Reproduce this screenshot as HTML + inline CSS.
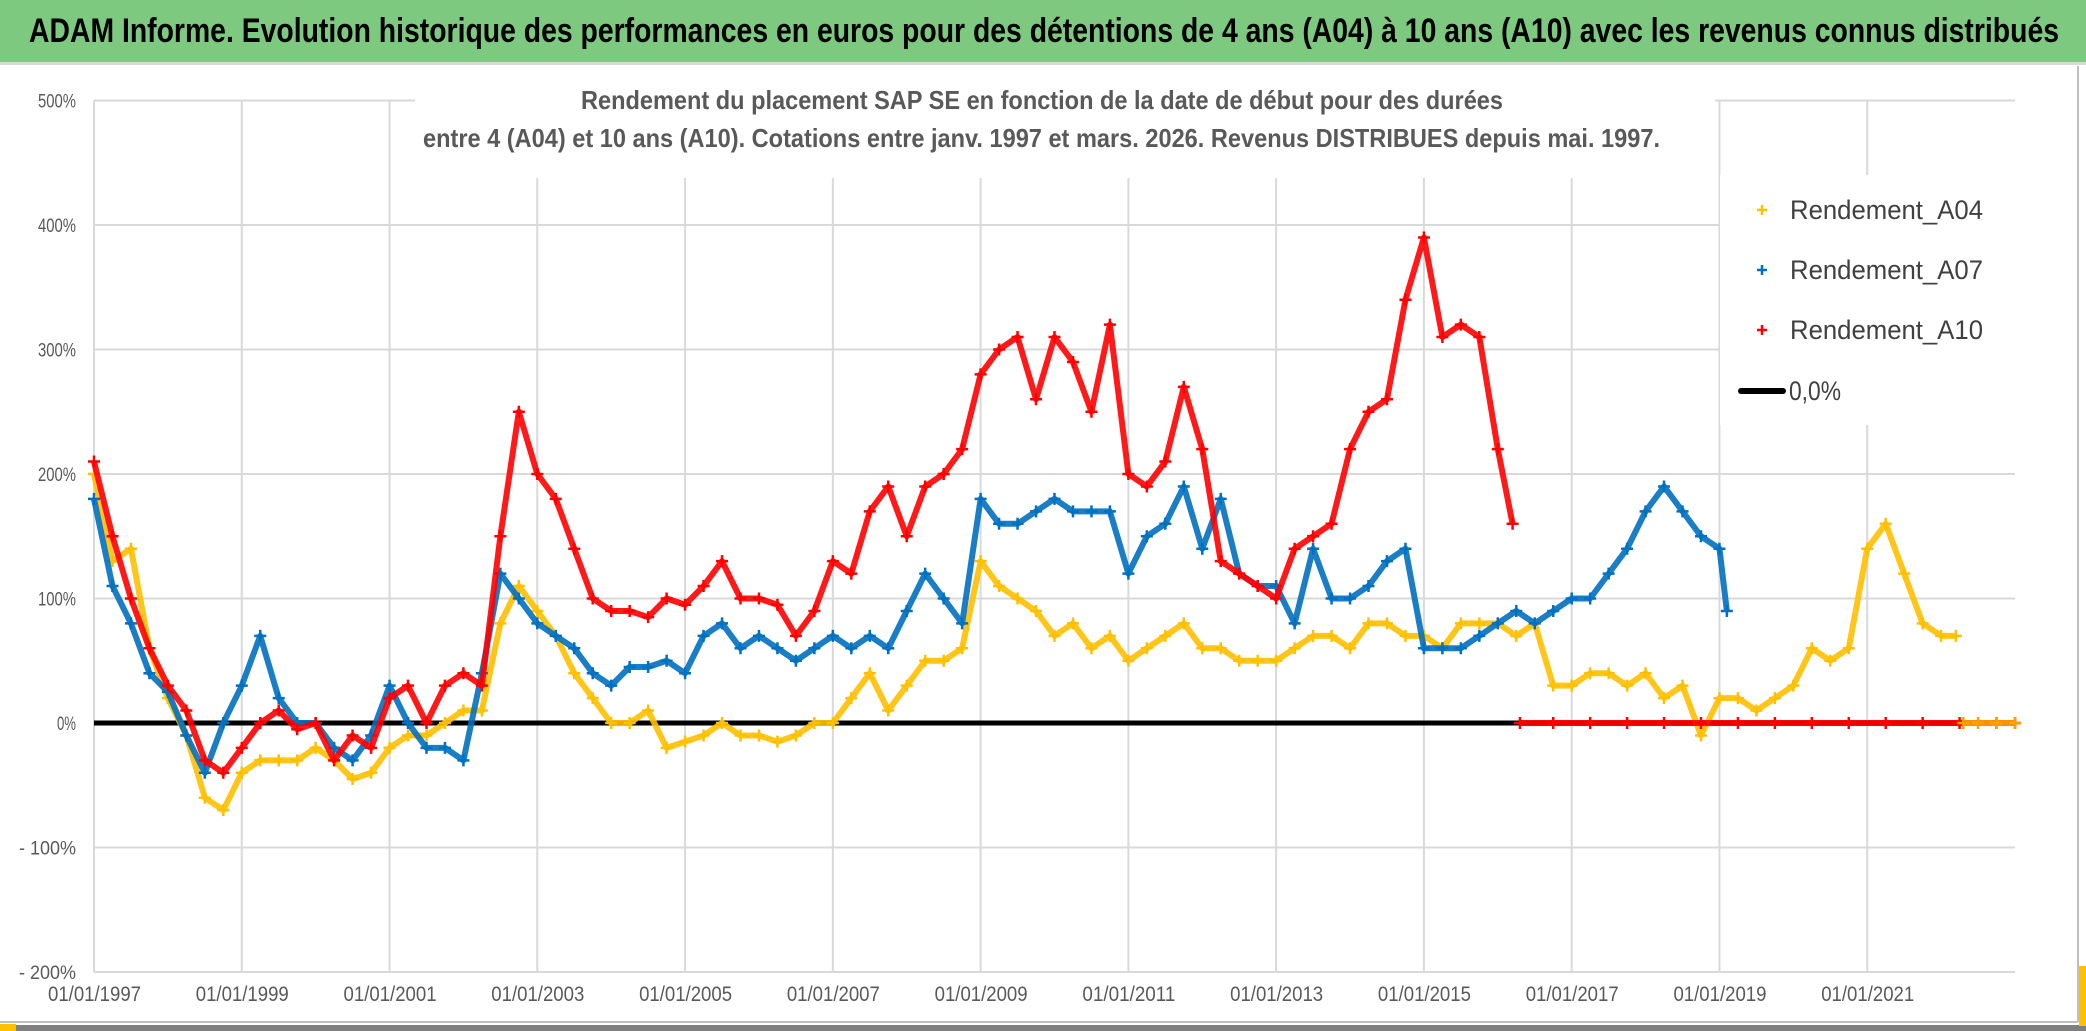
<!DOCTYPE html>
<html><head><meta charset="utf-8">
<style>
html,body{margin:0;padding:0;background:#fff;}
body{width:2086px;height:1031px;overflow:hidden;position:relative;font-family:"Liberation Sans",sans-serif;}
#title{position:absolute;left:0;top:0;width:2086px;height:62px;background:#7dc97f;border-bottom:3px solid #d9d9d9;}
svg{position:absolute;left:0;top:0;}
</style></head><body>
<div id="title"></div>
<svg id="chart" width="2086" height="1031">
<text x="29" y="42" font-size="34" font-weight="bold" fill="#000" textLength="2030" lengthAdjust="spacingAndGlyphs" font-family="Liberation Sans, sans-serif">ADAM Informe. Evolution historique des performances en euros pour des détentions de 4 ans (A04) à 10 ans (A10) avec les revenus connus distribués</text>
</svg>
<script>
const yearsA10=[1997,1997.25,1997.5,1997.75,1998,1998.25,1998.5,1998.75,1999,1999.25,1999.5,1999.75,2000,2000.25,2000.5,2000.75,2001,2001.25,2001.5,2001.75,2002,2002.25,2002.5,2002.75,2003,2003.25,2003.5,2003.75,2004,2004.25,2004.5,2004.75,2005,2005.25,2005.5,2005.75,2006,2006.25,2006.5,2006.75,2007,2007.25,2007.5,2007.75,2008,2008.25,2008.5,2008.75,2009,2009.25,2009.5,2009.75,2010,2010.25,2010.5,2010.75,2011,2011.25,2011.5,2011.75,2012,2012.25,2012.5,2012.75,2013,2013.25,2013.5,2013.75,2014,2014.25,2014.5,2014.75,2015,2015.25,2015.5,2015.75,2016,2016.2];
const valsA10=[210,150,100,60,30,10,-30,-40,-20,0,10,-5,0,-30,-10,-20,20,30,0,30,40,30,150,250,200,180,140,100,90,90,85,100,95,110,130,100,100,95,70,90,130,120,170,190,150,190,200,220,280,300,310,260,310,290,250,320,200,190,210,270,220,130,120,110,100,140,150,160,220,250,260,340,390,310,320,310,220,160];
const yearsA10zero=[2016.3,2016.75,2017.25,2017.75,2018.25,2018.75,2019.25,2019.75,2020.25,2020.75,2021.25,2021.75,2022.25,2022.75,2023];
const valsA10zero=[0,0,0,0,0,0,0,0,0,0,0,0,0,0,0];
const yearsA07=[1997,1997.25,1997.5,1997.75,1998,1998.25,1998.5,1998.75,1999,1999.25,1999.5,1999.75,2000,2000.25,2000.5,2000.75,2001,2001.25,2001.5,2001.75,2002,2002.25,2002.5,2002.75,2003,2003.25,2003.5,2003.75,2004,2004.25,2004.5,2004.75,2005,2005.25,2005.5,2005.75,2006,2006.25,2006.5,2006.75,2007,2007.25,2007.5,2007.75,2008,2008.25,2008.5,2008.75,2009,2009.25,2009.5,2009.75,2010,2010.25,2010.5,2010.75,2011,2011.25,2011.5,2011.75,2012,2012.25,2012.5,2012.75,2013,2013.25,2013.5,2013.75,2014,2014.25,2014.5,2014.75,2015,2015.25,2015.5,2015.75,2016,2016.25,2016.5,2016.75,2017,2017.25,2017.5,2017.75,2018,2018.25,2018.5,2018.75,2019,2019.1];
const valsA07=[180,110,80,40,25,-10,-40,0,30,70,20,0,0,-20,-30,-10,30,0,-20,-20,-30,40,120,100,80,70,60,40,30,45,45,50,40,70,80,60,70,60,50,60,70,60,70,60,90,120,100,80,180,160,160,170,180,170,170,170,120,150,160,190,140,180,120,110,110,80,140,100,100,110,130,140,60,60,60,70,80,90,80,90,100,100,120,140,170,190,170,150,140,90];
const yearsA04=[1997,1997.25,1997.5,1997.75,1998,1998.25,1998.5,1998.75,1999,1999.25,1999.5,1999.75,2000,2000.25,2000.5,2000.75,2001,2001.25,2001.5,2001.75,2002,2002.25,2002.5,2002.75,2003,2003.25,2003.5,2003.75,2004,2004.25,2004.5,2004.75,2005,2005.25,2005.5,2005.75,2006,2006.25,2006.5,2006.75,2007,2007.25,2007.5,2007.75,2008,2008.25,2008.5,2008.75,2009,2009.25,2009.5,2009.75,2010,2010.25,2010.5,2010.75,2011,2011.25,2011.5,2011.75,2012,2012.25,2012.5,2012.75,2013,2013.25,2013.5,2013.75,2014,2014.25,2014.5,2014.75,2015,2015.25,2015.5,2015.75,2016,2016.25,2016.5,2016.75,2017,2017.25,2017.5,2017.75,2018,2018.25,2018.5,2018.75,2019,2019.25,2019.5,2019.75,2020,2020.25,2020.5,2020.75,2021,2021.25,2021.5,2021.75,2022,2022.2];
const valsA04=[200,130,140,60,20,-10,-60,-70,-40,-30,-30,-30,-20,-30,-45,-40,-20,-10,-10,0,10,10,80,110,90,70,40,20,0,0,10,-20,-15,-10,0,-10,-10,-15,-10,0,0,20,40,10,30,50,50,60,130,110,100,90,70,80,60,70,50,60,70,80,60,60,50,50,50,60,70,70,60,80,80,70,70,60,80,80,80,70,80,30,30,40,40,30,40,20,30,-10,20,20,10,20,30,60,50,60,140,160,120,80,70,70];
const yearsA04zero=[2022.3,2022.5,2022.75,2023];
const valsA04zero=[0,0,0,0];
const yTicks=[500,400,300,200,100,0,-100,-200];
const yTickLabels=["500%","400%","300%","200%","100%","0%","- 100%","- 200%"];
const xTicks=[1997,1999,2001,2003,2005,2007,2009,2011,2013,2015,2017,2019,2021];
const xTickLabels=["01/01/1997","01/01/1999","01/01/2001","01/01/2003","01/01/2005","01/01/2007","01/01/2009","01/01/2011","01/01/2013","01/01/2015","01/01/2017","01/01/2019","01/01/2021"];

const X0=94,X1=2015,Y0=723,PX=124.5;
const xs=y=>X0+(y-1997)*(X1-X0)/26;
const ys=v=>Y0-v*PX/100;
const NS="http://www.w3.org/2000/svg";
const svg=document.getElementById('chart');
function mk(t,a,p){const e=document.createElementNS(NS,t);for(const k in a)e.setAttribute(k,a[k]);(p||svg).appendChild(e);return e;}
const FF='Liberation Sans, sans-serif';

const grid=mk('g',{});


yTicks.forEach((v,i)=>{
  mk('line',{x1:X0,x2:X1,y1:ys(v),y2:ys(v),stroke:'#d9d9d9','stroke-width':2},grid);
  const t=mk('text',{x:76,y:ys(v)+7,'text-anchor':'end','font-size':19,fill:'#595959','font-family':FF,textLength:yTickLabels[i].length*9.5,lengthAdjust:'spacingAndGlyphs'});
  t.textContent=yTickLabels[i];
  
  
});
xTicks.forEach((yr,i)=>{
  mk('line',{x1:xs(yr),x2:xs(yr),y1:ys(500),y2:ys(-200),stroke:'#d9d9d9','stroke-width':2},grid);
  const t=mk('text',{x:xs(yr)-46,y:1001,'font-size':21,fill:'#595959','font-family':FF,textLength:93,lengthAdjust:'spacingAndGlyphs'});
  t.textContent=xTickLabels[i];
  
  
});
mk('rect',{x:415,y:78,width:1300,height:100,fill:'#fff'});
mk('rect',{x:1720,y:175,width:300,height:250,fill:'#fff'});

const zl=mk('line',{x1:X0,x2:X1,y1:Y0,y2:Y0,stroke:'#000','stroke-width':5});



function series(years,vals,color,name){
  const g=mk('g',{});
  
  
  mk('polyline',{points:years.map((y,i)=>xs(y)+','+ys(vals[i])).join(' '),fill:'none',stroke:color,'stroke-width':6,'stroke-linejoin':'round','stroke-opacity':0.9},g);
  years.forEach((y,i)=>{
    const cx=xs(y),cy=ys(vals[i]);
    const p=mk('path',{d:`M${cx-6},${cy}h12M${cx},${cy-6}v12`,stroke:color,'stroke-width':2.5},g);
    
    
  });
}
series(yearsA04,valsA04,'#ffc000','series-a04');
series(yearsA07,valsA07,'#0070c0','series-a07');
series(yearsA10,valsA10,'#ff0000','series-a10');
series(yearsA10zero,valsA10zero,'#ff0000','series-a10-zero');
series(yearsA04zero,valsA04zero,'#ffa000','series-a04-zero');

const st=mk('text',{x:581,y:109,'font-size':26,'font-weight':'bold',fill:'#595959','font-family':FF,textLength:922,lengthAdjust:'spacingAndGlyphs'});
st.textContent='Rendement du placement SAP SE en fonction de la date de début pour des durées';


const st2=mk('text',{x:423,y:147,'font-size':26,'font-weight':'bold',fill:'#595959','font-family':FF,textLength:1237,lengthAdjust:'spacingAndGlyphs'});
st2.textContent='entre 4 (A04) et 10 ans (A10). Cotations entre janv. 1997 et mars. 2026. Revenus DISTRIBUES depuis mai. 1997.';



const legNames=['Rendement_A04','Rendement_A07','Rendement_A10'];
const legColors=['#ffc000','#0070c0','#ff0000'];
const legY=[210,270,330];
legNames.forEach((n,i)=>{
  const g=mk('g',{});
  
  
  const cx=1762,cy=legY[i];
  mk('path',{d:`M${cx-5},${cy}h10M${cx},${cy-5}v10`,stroke:legColors[i],'stroke-width':2.5},g);
  const t=mk('text',{x:1790,y:cy+9,'font-size':27,fill:'#404040','font-family':FF,textLength:193,lengthAdjust:'spacingAndGlyphs'},g);
  t.textContent=n;
});
const lg=mk('g',{});


mk('line',{x1:1741,x2:1783,y1:391,y2:391,stroke:'#000','stroke-width':6,'stroke-linecap':'round'},lg);
const lt=mk('text',{x:1789,y:400,'font-size':27,fill:'#404040','font-family':FF,textLength:52,lengthAdjust:'spacingAndGlyphs'},lg);
lt.textContent='0,0%';

mk('line',{x1:2078,x2:2078,y1:66,y2:1022,stroke:'#bfbfbf','stroke-width':2});
mk('line',{x1:0,x2:2078,y1:1022,y2:1022,stroke:'#bfbfbf','stroke-width':2});
mk('rect',{x:0,y:1025,width:2086,height:6,fill:'#808080'});
mk('rect',{x:0,y:1024,width:16,height:7,fill:'#ffc000'});
mk('rect',{x:2079,y:966,width:7,height:60,fill:'#ffc000'});
</script>
</body></html>
